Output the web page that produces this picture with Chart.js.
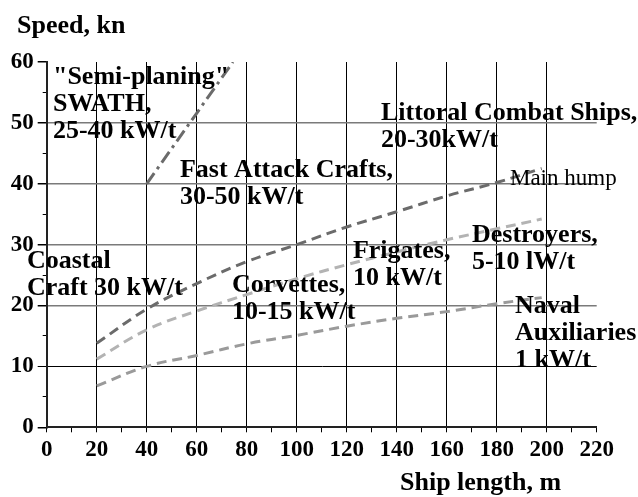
<!DOCTYPE html>
<html>
<head>
<meta charset="utf-8">
<script src="https://cdn.jsdelivr.net/npm/chart.js@4.4.1/dist/chart.umd.min.js"></script>
<style>
  html, body { margin: 0; padding: 0; background: #fff; }
  #wrap { width: 638px; height: 497px; }
</style>
</head>
<body>
<div id="wrap"><canvas id="speedChart" width="638" height="497"></canvas></div>
<script>
// Ship length (m) sampled along the three hump curves
var lengths = [20, 40, 60, 80, 100, 120, 140, 160, 180, 198];
// Speed (kn) of each curve at those lengths
var mainHump = [13.8, 19.4, 23.6, 27.2, 30.0, 32.9, 35.4, 38.0, 40.2, 42.5];
var destroyerCurve = [11.2, 16.0, 19.1, 21.8, 24.4, 26.7, 28.8, 30.8, 32.6, 34.2];
var auxiliaryCurve = [6.8, 10.0, 11.8, 13.7, 15.1, 16.6, 17.9, 19.0, 20.3, 21.3];
// semi-planing SWATH band (dash-dot)
var swathLengths = [40, 74.5];
var swathSpeeds = [40, 60];

var xTicks = [0, 20, 40, 60, 80, 100, 120, 140, 160, 180, 200, 220];
var yTicks = [0, 10, 20, 30, 40, 50, 60];

// text notes placed in data units (length, speed of first baseline)
var notes = [
    { x: 2.5,   y: 56.4, lines: ['"Semi-planing"', 'SWATH,', '25-40 kW/t'] },
    { x: 53.3,  y: 41.1, lines: ['Fast Attack Crafts,', '30-50 kW/t'] },
    { x: 133.7, y: 50.4, lines: ['Littoral Combat Ships,', '20-30kW/t'] },
    { x: 170.1, y: 30.5, lines: ['Destroyers,', '5-10 lW/t'] },
    { x: 122.5, y: 27.8, lines: ['Frigates,', '10 kW/t'] },
    { x: 74.1,  y: 22.2, lines: ['Corvettes,', '10-15 kW/t'] },
    { x: -7.9,  y: 26.2, lines: ['Coastal', 'Craft 30 kW/t'] },
    { x: 187.3, y: 18.8, lines: ['Naval', 'Auxiliaries', '1 kW/t'] }
];
var humpNote = { x: 185.3, y: 39.8, text: 'Main hump' };

var SERIF = '"Liberation Serif", "Times New Roman", serif';

function pts(xs, ys){
    return xs.map(function(x, i){ return { x: x, y: ys[i] }; });
}

var notesPlugin = {
    id: 'notes',
    afterDatasetsDraw: function(chart){
        var ctx = chart.ctx, sx = chart.scales.x, sy = chart.scales.y;
        ctx.save();
        ctx.fillStyle = '#000';
        ctx.textAlign = 'left';
        ctx.textBaseline = 'alphabetic';
        ctx.font = 'bold 26px ' + SERIF;
        notes.forEach(function(n){
            var px = sx.getPixelForValue(n.x), py = sy.getPixelForValue(n.y);
            n.lines.forEach(function(t, i){ ctx.fillText(t, px, py + i * 27); });
        });
        ctx.font = '23px ' + SERIF;
        ctx.fillText(humpNote.text, sx.getPixelForValue(humpNote.x), sy.getPixelForValue(humpNote.y));
        // axis titles
        ctx.font = 'bold 26px ' + SERIF;
        ctx.fillText('Speed, kn', 17, 33);
        ctx.fillText('Ship length, m', 400, 490);
        ctx.restore();
    }
};

var dashed = function(label, ys, color){
    return {
        label: label, data: pts(lengths, ys), showLine: true,
        borderColor: color, borderWidth: 3, borderDash: [10, 6],
        pointRadius: 0, fill: false, tension: 0.4
    };
};

new Chart(document.getElementById('speedChart').getContext('2d'), {
    type: 'scatter',
    data: {
        datasets: [
            dashed('Main hump', mainHump, '#6b6b6b'),
            dashed('Destroyers', destroyerCurve, '#b3b3b3'),
            dashed('Naval auxiliaries', auxiliaryCurve, '#9a9a9a'),
            {
                label: 'SWATH', data: pts(swathLengths, swathSpeeds), showLine: true,
                borderColor: '#6b6b6b', borderWidth: 3, borderDash: [13, 5, 3, 5],
                pointRadius: 0, fill: false
            }
        ]
    },
    options: {
        responsive: false,
        animation: false,
        devicePixelRatio: 1,
        layout: { padding: { top: 62, right: 41.3, bottom: 0, left: 0 } },
        plugins: { legend: { display: false }, tooltip: { enabled: false } },
        scales: {
            x: {
                type: 'linear', min: 0, max: 220,
                afterBuildTicks: function(s){
                    s.ticks = [];
                    for (var v = 0; v <= 220; v += 10) s.ticks.push({ value: v });
                },
                afterFit: function(s){ s.height = 69.7; },
                ticks: {
                    autoSkip: false, maxRotation: 0, padding: 4, color: '#000',
                    font: { family: SERIF, size: 23, weight: 'bold' },
                    callback: function(v){ return xTicks.indexOf(v) >= 0 ? String(v) : ''; }
                },
                grid: {
                    color: function(c){ var v = c.tick && c.tick.value; return (v % 20 === 0 && v > 0 && v < 220) ? '#000' : 'rgba(0,0,0,0)'; },
                    lineWidth: 1, tickColor: '#000', tickLength: 5
                },
                border: { color: '#222', width: 2 }
            },
            y: {
                type: 'linear', min: 0, max: 60, weight: 1,
                afterBuildTicks: function(s){ s.ticks = yTicks.map(function(v){ return { value: v }; }); },
                afterFit: function(s){ s.width = 46.7; },
                ticks: {
                    padding: 4, color: '#000',
                    font: { family: SERIF, size: 23, weight: 'bold' }
                },
                grid: {
                    color: function(c){ var v = c.tick && c.tick.value; if (v === 10) return '#000'; return (v > 0 && v < 60) ? '#7a7a7a' : 'rgba(0,0,0,0)'; },
                    lineWidth: function(c){ return (c.tick && c.tick.value === 10) ? 1 : 1.5; },
                    tickColor: '#000', tickLength: 9
                },
                border: { color: '#222', width: 2 }
            },
            yMinor: {
                type: 'linear', position: 'left', min: 0, max: 60, weight: 0,
                afterBuildTicks: function(s){
                    s.ticks = [];
                    for (var v = 5; v < 60; v += 10) s.ticks.push({ value: v });
                },
                afterFit: function(s){ s.width = 0; },
                ticks: { display: false },
                grid: { drawOnChartArea: false, color: '#000', tickColor: '#000', tickLength: 4 },
                border: { display: false }
            }
        }
    },
    plugins: [notesPlugin]
});
</script>
</body>
</html>
